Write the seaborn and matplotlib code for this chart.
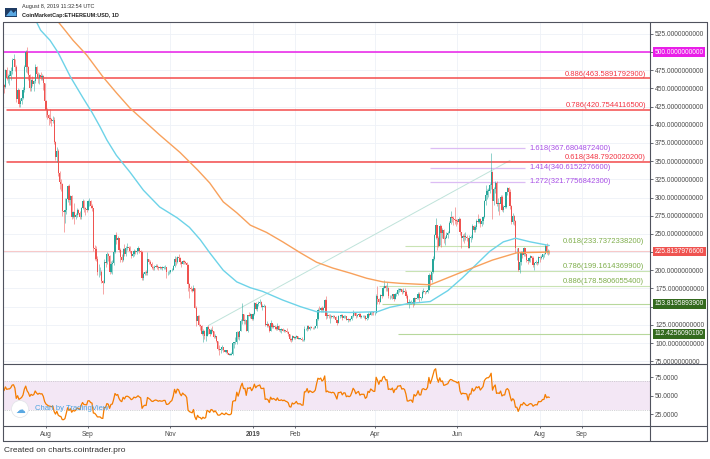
import numpy as np
import pandas as pd
import seaborn as sns
import matplotlib.pyplot as plt
import matplotlib.dates as mdates
from matplotlib.lines import Line2D
from matplotlib.patches import Rectangle, Ellipse, Polygon

# ETH/USD daily candles from 2018-06-15 (the June days only warm up the RSI)
first_open = 518
close = [
    487, 498, 500, 518, 537, 535, 526, 463, 472, 456, 457, 431, 441, 421, 435, 454,  # Jun 18
    452, 475, 464, 467, 467, 474, 489, 491, 480, 435, 448, 428, 432, 437, 448, 480,
    500, 479, 469, 450, 461, 456, 460, 479, 470, 464, 469, 466, 467, 457, 433,  # Jul 18
    420, 414, 409, 408, 405, 407, 376, 356, 364, 333, 321, 318, 281, 280, 283, 298,
    316, 296, 302, 273, 280, 273, 276, 283, 279, 273, 286, 295, 285, 284, 283,  # Aug 18
    295, 295, 288, 286, 231, 229, 216, 197, 197, 197, 185, 183, 211, 210, 222, 219,
    197, 209, 210, 225, 248, 241, 244, 228, 218, 214, 229, 222, 231, 232,  # Sep 18
    230, 226, 220, 222, 227, 225, 227, 230, 227, 225, 190, 195, 197, 196, 215, 212,
    209, 204, 203, 205, 206, 205, 203, 204, 203, 203, 204, 204, 197, 197, 198,  # Oct 18
    200, 201, 206, 216, 211, 218, 217, 212, 209, 213, 211, 210, 207, 181, 176, 174,
    172, 176, 148, 130, 137, 125, 123, 113, 116, 109, 110, 122, 119, 113,  # Nov 18
    118, 116, 108, 110, 103, 92, 91, 92, 94, 90, 88, 90, 86, 84, 84, 85,
    100, 101, 101, 115, 108, 117, 130, 140, 130, 131, 116, 138, 137, 140, 133,  # Dec 18
    140, 155, 147, 153, 155, 157, 150, 150, 151, 125, 126, 124, 116, 128, 122, 124,
    122, 119, 124, 118, 118, 119, 117, 118, 116, 115, 113, 105, 104, 109, 107,  # Jan 19
    108, 110, 106, 106, 106, 104, 104, 119, 119, 124, 119, 122, 121, 120,
    121, 123, 133, 146, 145, 148, 145, 148, 159, 137, 139, 137, 137, 136,  # Feb 19
    137, 136, 132, 127, 137, 137, 138, 134, 137, 137, 132, 133, 132, 133, 137, 143,
    141, 137, 139, 140, 136, 137, 137, 137, 133, 134, 140, 139, 143, 142, 141,  # Mar 19
    141, 164, 161, 157, 166, 165, 176, 179, 175, 176, 164, 165, 164, 167, 161,
    167, 167, 173, 173, 174, 170, 171, 170, 165, 155, 155, 156, 156, 153, 162,  # Apr 19
    160, 162, 167, 162, 162, 170, 171, 170, 170, 173, 194, 187, 197, 216, 248, 262,
    244, 234, 261, 251, 255, 243, 245, 248, 251, 265, 273, 272, 270, 269, 268,  # May 19
    266, 271, 252, 244, 247, 246, 246, 245, 231, 245, 245, 261, 255, 259, 268,
    266, 270, 263, 268, 273, 295, 304, 309, 309, 317, 335, 295, 311, 320, 291,  # Jun 19
    293, 291, 301, 283, 287, 287, 308, 313, 308, 288, 267, 275, 268, 230, 230, 200,
    211, 225, 221, 230, 222, 214, 213, 217, 219, 217, 207, 210, 211, 210, 218,  # Jul 19
    217, 218, 222, 222, 233, 225, 227, 225.81,  # Aug 19
]
high = [
    522, 502, 510, 521, 545, 542, 541, 528, 478, 476, 468, 460, 447, 442, 438, 456,
    456, 477, 480, 470, 475, 480, 492, 497, 491, 482, 451, 449, 437, 440, 452, 482,
    503, 507, 481, 470, 463, 467, 462, 483, 481, 472, 471, 472, 470, 468, 458,
    434, 423, 415, 421, 409, 412, 410, 377, 370, 366, 336, 326, 320, 283, 299, 299,
    317, 318, 304, 304, 282, 292, 279, 285, 284, 281, 287, 298, 297, 287, 288,
    297, 299, 296, 291, 286, 235, 233, 220, 209, 204, 200, 187, 216, 220, 225, 224,
    221, 213, 214, 226, 249, 253, 247, 245, 230, 223, 230, 236, 233, 237,
    234, 233, 227, 226, 229, 228, 229, 233, 231, 228, 226, 198, 199, 200, 225, 215,
    214, 211, 206, 207, 209, 208, 206, 206, 205, 206, 206, 207, 205, 199, 201,
    201, 203, 207, 220, 218, 220, 223, 218, 213, 214, 214, 213, 211, 209, 182, 178,
    175, 180, 176, 151, 139, 139, 126, 125, 119, 118, 113, 124, 125, 119,
    120, 123, 116, 112, 110, 103, 97, 95, 97, 95, 91, 91, 90, 86, 86, 87,
    101, 102, 108, 117, 117, 117, 133, 155, 140, 133, 131, 138, 143, 141, 140,
    141, 157, 156, 154, 158, 160, 158, 153, 154, 152, 130, 127, 125, 131, 128, 126,
    125, 123, 128, 125, 119, 121, 120, 119, 118, 121, 116, 113, 107, 111, 110,
    109, 111, 110, 107, 107, 108, 105, 123, 121, 125, 125, 123, 124, 122,
    124, 124, 134, 148, 151, 150, 151, 149, 160, 165, 142, 140, 140, 139,
    139, 138, 137, 132, 138, 139, 140, 140, 138, 138, 137, 134, 133, 135, 138, 145,
    143, 143, 140, 141, 141, 138, 139, 138, 138, 135, 142, 141, 144, 144, 142,
    143, 168, 178, 162, 168, 168, 179, 186, 180, 184, 177, 166, 166, 168, 168,
    169, 170, 175, 176, 176, 174, 176, 176, 173, 167, 160, 158, 159, 158, 163,
    162, 162, 170, 170, 163, 173, 176, 172, 172, 175, 196, 195, 198, 219, 250, 272,
    262, 247, 264, 262, 258, 257, 247, 252, 254, 268, 281, 275, 274, 287, 270,
    270, 273, 272, 253, 250, 251, 252, 249, 245, 248, 249, 263, 262, 262, 270,
    278, 272, 272, 270, 275, 296, 317, 312, 313, 320, 361, 337, 314, 322, 322,
    299, 293, 303, 304, 290, 295, 308, 314, 315, 311, 290, 279, 276, 269, 231, 230,
    214, 226, 227, 232, 230, 222, 215, 218, 221, 219, 219, 212, 214, 212, 219,
    220, 221, 223, 224, 236, 238, 229, 228,
]
low = [
    484, 481, 494, 491, 512, 523, 520, 460, 455, 420, 440, 430, 418, 418, 410, 430,
    444, 450, 461, 458, 455, 462, 470, 485, 474, 431, 432, 424, 425, 429, 435, 445,
    473, 471, 462, 446, 447, 453, 447, 458, 464, 458, 456, 462, 462, 448, 427,
    410, 408, 400, 402, 398, 402, 374, 352, 349, 330, 311, 309, 274, 252, 265, 278,
    294, 290, 290, 271, 272, 264, 270, 273, 277, 271, 271, 284, 280, 276, 280,
    283, 289, 285, 281, 227, 214, 213, 194, 191, 193, 183, 168, 183, 205, 209, 213,
    195, 196, 195, 207, 224, 236, 238, 225, 212, 211, 213, 220, 220, 228,
    226, 224, 217, 218, 220, 223, 223, 226, 224, 221, 186, 187, 194, 193, 193, 209,
    207, 202, 200, 201, 204, 202, 201, 202, 202, 201, 202, 202, 189, 194, 195,
    196, 199, 200, 204, 207, 210, 214, 209, 205, 209, 209, 209, 206, 172, 162, 171,
    170, 171, 148, 124, 126, 124, 118, 111, 102, 106, 103, 110, 112, 110,
    112, 115, 107, 107, 101, 91, 83, 86, 91, 88, 87, 86, 85, 83, 83, 84,
    84, 93, 99, 99, 105, 104, 116, 126, 126, 126, 116, 115, 137, 134, 131,
    131, 139, 146, 144, 151, 153, 149, 146, 149, 124, 122, 122, 115, 116, 120, 121,
    119, 118, 118, 116, 115, 114, 116, 115, 115, 114, 110, 103, 102, 103, 106,
    106, 107, 105, 105, 105, 103, 103, 103, 118, 117, 118, 118, 120, 119,
    119, 121, 121, 132, 142, 142, 142, 143, 146, 133, 134, 135, 128, 134,
    135, 134, 131, 125, 127, 134, 136, 131, 134, 135, 131, 129, 130, 130, 132, 136,
    139, 135, 136, 137, 134, 135, 136, 135, 131, 132, 133, 137, 138, 139, 139,
    139, 141, 154, 154, 157, 162, 164, 175, 172, 171, 162, 160, 162, 161, 158,
    160, 164, 166, 170, 171, 168, 169, 166, 162, 153, 148, 153, 154, 150, 152,
    157, 160, 161, 156, 159, 162, 169, 167, 169, 169, 173, 178, 184, 196, 214, 243,
    228, 232, 235, 232, 245, 238, 235, 244, 245, 251, 264, 266, 262, 263, 261,
    263, 264, 249, 231, 240, 238, 242, 240, 230, 230, 239, 243, 253, 253, 257,
    265, 265, 259, 261, 263, 272, 290, 298, 301, 306, 312, 270, 290, 306, 289,
    281, 276, 290, 282, 280, 286, 285, 303, 300, 284, 263, 263, 262, 224, 214, 199,
    196, 207, 217, 220, 220, 211, 209, 212, 212, 214, 205, 201, 208, 207, 208,
    212, 215, 216, 218, 222, 222, 221, 222,
]

# moving averages as drawn on the chart
ma_blue_dates = ["2018-07-20", "2018-07-28", "2018-08-04", "2018-08-10", "2018-08-19",
                 "2018-08-28", "2018-09-04", "2018-09-10", "2018-09-15", "2018-09-22",
                 "2018-10-02", "2018-10-12", "2018-10-24", "2018-11-06", "2018-11-15",
                 "2018-11-23", "2018-11-30", "2018-12-10", "2018-12-20", "2018-12-30",
                 "2019-01-08", "2019-01-23", "2019-02-05", "2019-02-17", "2019-03-14",
                 "2019-04-03", "2019-04-12", "2019-04-25", "2019-05-12", "2019-05-25",
                 "2019-06-05", "2019-06-15", "2019-06-25", "2019-07-05", "2019-07-14",
                 "2019-07-25", "2019-08-08"]
ma_blue = [560, 530, 516, 499, 466, 438, 417, 397, 379, 358, 335, 310, 287, 272, 259,
           242, 224, 200, 184, 176, 171, 159, 150, 143, 142, 143, 149, 154, 157, 172,
           190, 208, 226, 239, 244, 239, 234]
ma_orange_dates = ["2018-08-05", "2018-08-15", "2018-08-21", "2018-08-31", "2018-09-12",
                   "2018-09-22", "2018-10-02", "2018-10-24", "2018-11-08", "2018-11-21",
                   "2018-11-30", "2018-12-10", "2018-12-20", "2018-12-30", "2019-01-11",
                   "2019-01-23", "2019-02-05", "2019-02-17", "2019-03-01", "2019-03-14",
                   "2019-03-26", "2019-04-07", "2019-04-20", "2019-05-12", "2019-05-24",
                   "2019-06-05", "2019-06-27", "2019-07-15", "2019-08-08"]
ma_orange = [553, 530, 516, 496, 466, 444, 423, 386, 362, 338, 320, 294, 279, 262, 252,
             239, 224, 211, 203, 196, 189, 184, 182, 180, 189, 198, 214, 224, 225]

trend_dates = ["2018-11-29", "2019-07-10"]
trend_prices = [124, 351]

retrace_names = ["0.886", "0.786", "0.618"]
retrace_prices = [463.5891792900, 420.7544116500, 348.7920020200]
ext_names = ["1.618", "1.414", "1.272"]
ext_prices = [367.6804872400, 340.6152276600, 321.7756842300]
ext_span = ["2019-05-12", "2019-07-21"]
low_fib_names = ["0.618", "0.786", "0.886"]
low_fib_prices = [233.7372338200, 199.1614369900, 178.5806055400]
low_fib_start = ["2019-04-23", "2019-04-23", "2019-04-04"]
low_fib_end = ["2019-08-07", None, None]
support_prices = [153.8195893900, 112.4256090100]
support_start = ["2019-04-06", "2019-04-18"]
round_level = 500.0
last_price = 225.8137976600

month_ticks = ["2018-08-01", "2018-09-01", "2018-11-01", "2019-01-01", "2019-02-01",
               "2019-04-01", "2019-06-01", "2019-08-01", "2019-09-01"]
month_labels = ["Aug", "Sep", "Nov", "2019", "Feb", "Apr", "Jun", "Aug", "Sep"]
price_ticks = list(range(75, 526, 25))
rsi_ticks = [25, 50, 75]

sns.set_theme(style="white")
plt.rcParams["font.family"] = ["Liberation Sans", "DejaVu Sans"]

W, H = 710, 459
def fx(x):
    return x / W
def fy(y):
    return 1 - y / H
def dn(s):
    return mdates.date2num(pd.Timestamp(s))

frame = "#50535e"
axis_text = "#4a4a4a"
grid_c = "#eef1f7"

df = pd.DataFrame({"date": pd.date_range("2018-06-15", periods=len(close), freq="D"),
                   "close": close, "high": high, "low": low})
df["open"] = [first_open] + close[:-1]
df["x"] = mdates.date2num(df["date"])

# RSI 14, Wilder smoothing
delta = df["close"].diff()
gain = delta.clip(lower=0).ewm(alpha=1 / 14, adjust=False).mean()
loss = (-delta.clip(upper=0)).ewm(alpha=1 / 14, adjust=False).mean()
df["rsi"] = 100 - 100 / (1 + gain / loss)

fig = plt.figure(figsize=(7.1, 4.59), dpi=100)
ax = fig.add_axes([fx(3), fy(364), 647 / W, 342 / H])
axr = fig.add_axes([fx(3), fy(426), 647 / W, 62 / H])

x_ref = dn("2018-08-01")
ppd = 1.353
xlim = (x_ref - 43 / ppd, x_ref + 604 / ppd)

# candles
up = df["close"] >= df["open"]
cols = np.where(up, "#26a69a", "#ef5350")
body_lo = np.minimum(df["open"], df["close"])
body_h = np.maximum(np.abs(df["close"] - df["open"]), 0.8)
ax.vlines(df["x"], df["low"], df["high"], colors=cols, lw=0.6, alpha=0.6, zorder=4)
ax.bar(df["x"], body_h, bottom=body_lo, width=0.9, color=cols, lw=0, zorder=5)

# moving averages and trend line
sns.lineplot(x=[dn(d) for d in ma_blue_dates], y=ma_blue, ax=ax, color="#6dd3e8", lw=1.0, zorder=6)
sns.lineplot(x=[dn(d) for d in ma_orange_dates], y=ma_orange, ax=ax, color="#f8a15c", lw=1.0, zorder=6)
sns.lineplot(x=[dn(d) for d in trend_dates], y=trend_prices, ax=ax, color="#bfe3da", lw=0.7, zorder=3)

# levels
ax.axhline(round_level, color="#e91ee8", lw=1.1, zorder=3)
for name, p in zip(retrace_names, retrace_prices):
    ax.axhline(p, xmin=0.006, color="#f44b4b", lw=1.1, zorder=3)
    ax.annotate(f"{name}({p:.10f})", xy=(0.994, p), xycoords=ax.get_yaxis_transform(),
                xytext=(0, 0.4), textcoords="offset points", ha="right", va="bottom",
                fontsize=5.5, color="#f23645", zorder=8)
for name, p in zip(ext_names, ext_prices):
    ax.hlines(p, dn(ext_span[0]), dn(ext_span[1]), color="#dcbcf4", lw=0.9, zorder=3)
    ax.text(dn("2019-07-24"), p, f"{name}({p:.10f})", ha="left", va="center",
            fontsize=5.5, color="#a84fe6", zorder=8)
for name, p, s, e in zip(low_fib_names, low_fib_prices, low_fib_start, low_fib_end):
    x1 = dn(e) if e else xlim[1]
    ax.hlines(p, dn(s), x1, color="#c9e3b4", lw=0.8, zorder=3)
    ax.annotate(f"{name}({p:.10f})", xy=(dn("2019-08-18"), p), xytext=(0, 0.4),
                textcoords="offset points", ha="left", va="bottom",
                fontsize=5.5, color="#7fae4c", zorder=8)
for p, s in zip(support_prices, support_start):
    ax.hlines(p, dn(s), xlim[1], color="#b7d89c", lw=0.8, zorder=3)
ax.axhline(last_price, color="#f7c9c9", lw=0.8, zorder=2)

# boxes on the price axis
boxes = [(round_level, "#e91ee8"), (last_price, "#ef5350"),
         (support_prices[0], "#33691e"), (support_prices[1], "#33691e")]
for p, c in boxes:
    ax.text(1.0075, p, f"{p:.10f}", transform=ax.get_yaxis_transform(), ha="left",
            va="center", fontsize=4.8, color="white", clip_on=False, zorder=10,
            bbox=dict(boxstyle="square,pad=0.22", fc=c, ec="none"))

ax.set_xlim(xlim)
ax.set_ylim(100 - 21 / 0.7275, 100 + 321 / 0.7275)
ax.yaxis.tick_right()
ax.set_yticks(price_ticks)
hidden = {500, 225, 150}
ax.set_yticklabels(["" if t in hidden else f"{t:.10f}" for t in price_ticks])
ax.set_xticks([dn(d) for d in month_ticks])
ax.tick_params(axis="x", labelbottom=False, length=0)
ax.tick_params(axis="y", right=True, left=False, length=2.2, width=0.6, color=frame,
               pad=1.5, labelsize=4.8, labelcolor=axis_text)
ax.grid(True, color=grid_c, lw=0.6)
ax.set_xlabel("")
ax.set_ylabel("")

# RSI panel
axr.axhspan(30, 70, color="#f3e7f5", lw=0, zorder=1)
for lvl in (30, 70):
    axr.axhline(lvl, color="#c4c4c8", lw=0.6, ls=(0, (1, 1.2)), zorder=2)
rsi_part = df[df["date"] >= "2018-06-29"]
sns.lineplot(x=rsi_part["x"], y=rsi_part["rsi"], ax=axr, color="#f57c00", lw=0.9, zorder=4)
axr.set_xlim(xlim)
axr.set_ylim(8.8, 92.6)
axr.yaxis.tick_right()
axr.set_yticks(rsi_ticks)
axr.set_yticklabels([f"{t:.4f}" for t in rsi_ticks])
axr.set_xticks([dn(d) for d in month_ticks])
axr.set_xticklabels(month_labels)
axr.get_xticklabels()[3].set_fontweight("bold")
axr.tick_params(axis="x", bottom=True, length=1.5, width=0.6, color=frame, pad=2.2,
                labelsize=4.8, labelcolor=axis_text)
axr.tick_params(axis="y", right=True, left=False, length=2.2, width=0.6, color=frame,
                pad=1.5, labelsize=4.8, labelcolor=axis_text)
axr.grid(True, axis="x", color=grid_c, lw=0.6)
axr.set_xlabel("")
axr.set_ylabel("")

for a in (ax, axr):
    for sp in a.spines.values():
        sp.set_visible(False)

# frame
def fline(x0, y0, x1, y1):
    fig.add_artist(Line2D([fx(x0), fx(x1)], [fy(y0), fy(y1)], color=frame, lw=0.8, zorder=20))
fline(3, 22, 707, 22)
fline(3, 441, 707, 441)
fline(3, 22, 3, 441)
fline(707, 22, 707, 441)
fline(650, 22, 650, 441)
fline(3, 364, 707, 364)
fline(3, 426, 707, 426)

# watermark in RSI panel
fig.add_artist(Ellipse((fx(20), fy(409)), 17 / W, 17 / H, fc="white", ec="#e4e6ea", lw=0.6, zorder=21))
fig.text(fx(20), fy(409.5), "\u2601", family="DejaVu Sans", fontsize=7, color="#5aa8e2",
         ha="center", va="center", zorder=22)
fig.text(fx(35), fy(409), "Chart by TradingView", fontsize=5.5, color="#4aa3df",
         ha="left", va="center", zorder=22)

# header
fig.add_artist(Rectangle((fx(5), fy(17)), 12 / W, 9 / H, fc="#1f3b63", ec="none", zorder=21))
fig.add_artist(Polygon([(fx(6), fy(16)), (fx(11), fy(10)), (fx(13.5), fy(13)),
                        (fx(16), fy(10.5)), (fx(16.5), fy(16))],
                       closed=True, fc="#5aa8e2", ec="none", zorder=22))
fig.text(fx(22), fy(6.5), "August 8, 2019 11:32:54 UTC", fontsize=4.0, color="#333333",
         ha="left", va="center")
fig.text(fx(22), fy(16), "CoinMarketCap:ETHEREUM:USD, 1D", fontsize=4.0, fontweight="bold",
         color="#222222", ha="left", va="center")
fig.text(fx(4), fy(451), "Created on charts.cointrader.pro", fontsize=6.0, color="#333333",
         ha="left", va="center")

fig.savefig("out.png", dpi=100, facecolor="white")
